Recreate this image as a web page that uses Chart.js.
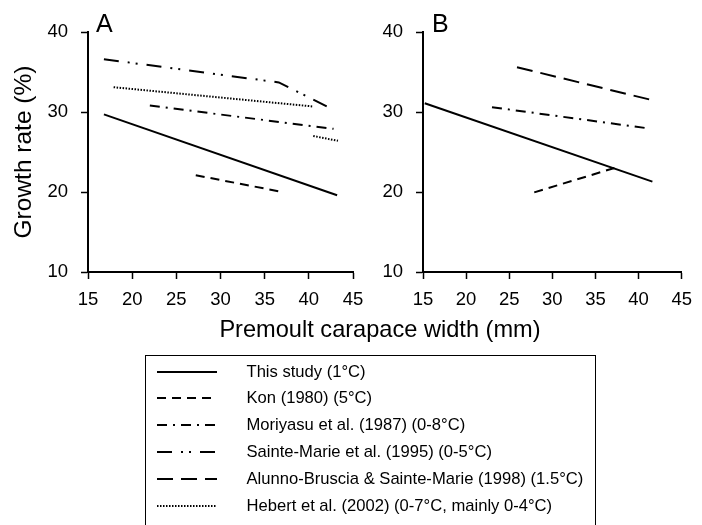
<!DOCTYPE html>
<html>
<head>
<meta charset="utf-8">
<script src="https://cdn.jsdelivr.net/npm/chart.js@4.4.1/dist/chart.umd.min.js"></script>
<style>
  body { margin: 0; background: #fff; font-family: "Liberation Sans", Arial, sans-serif; color: #000; }
  #wrap { position: relative; width: 702px; height: 525px; overflow: hidden; }
  .panel { position: absolute; top: 0; height: 320px; }
  #panelA { left: 0; width: 380px; }
  #panelB { left: 360px; width: 342px; }
  .tag { position: absolute; font-size: 25px; line-height: 1; }
  #xTitle { position: absolute; top: 316px; left: 180px; width: 400px; text-align: center; font-size: 23.6px; white-space: nowrap; }
  #legend { position: absolute; left: 145px; top: 355px; width: 451px; height: 200px; border: 1.5px solid #000; box-sizing: border-box; }
  .row { position: absolute; left: 0; height: 20px; display: flex; align-items: center; font-size: 16.6px; white-space: nowrap; }
  .row canvas { margin-left: 10.5px; }
  .row span { margin-left: 30px; }
</style>
</head>
<body>
<div id="wrap">
  <div class="panel" id="panelA"><canvas id="chartA"></canvas></div>
  <div class="panel" id="panelB"><canvas id="chartB"></canvas></div>
  <div class="tag" style="left:96px; top:11px;">A</div>
  <div class="tag" style="left:432px; top:11px;">B</div>
  <div id="xTitle">Premoult carapace width (mm)</div>
  <div id="legend"></div>
</div>
<script>
// Ejes (valores de las marcas)
const xTickValues = [15, 20, 25, 30, 35, 40, 45];
const yTickValues = [10, 20, 30, 40];

// Nombres de las series (leyenda)
const seriesNames = [
  'This study (1°C)',
  'Kon (1980) (5°C)',
  'Moriyasu et al. (1987) (0-8°C)',
  'Sainte-Marie et al. (1995) (0-5°C)',
  'Alunno-Bruscia & Sainte-Marie (1998) (1.5°C)',
  'Hebert et al. (2002) (0-7°C, mainly 0-4°C)'
];

// Panel A: ancho (mm) / crecimiento (%)
const thisStudyAX = [16.8, 43.2];
const thisStudyAY = [29.7, 19.6];
const konAX = [27.2, 37.0];
const konAY = [22.1, 20.0];
const moriyasuAX = [22.0, 42.8];
const moriyasuAY = [30.8, 27.9];
const sainteMarieAX = [16.8, 36.6, 42.4];
const sainteMarieAY = [36.6, 33.7, 30.5];
const hebertAX = [17.9, 40.4, 40.45, 40.5, 43.3];
const hebertAY = [33.1, 30.7, null, 27.0, 26.4];

// Panel B
const thisStudyBX = [15.2, 41.6];
const thisStudyBY = [31.1, 21.3];
const konBX = [27.9, 37.2];
const konBY = [19.95, 23.0];
const moriyasuBX = [23.0, 40.8];
const moriyasuBY = [30.6, 28.0];
const alunnoBX = [25.9, 41.7];
const alunnoBY = [35.6, 31.45];

// Estilos de trazo por fuente
const dashes = [[], [9, 6], [10, 6, 2, 6], [15, 9, 2, 6, 2, 9], [16, 8], [1.5, 1.5]];

const FONT = '"Liberation Sans", Arial, sans-serif';
Chart.defaults.color = '#000';
Chart.defaults.font.family = FONT;

function points(xs, ys) {
  return xs.map((x, i) => ({ x: x, y: ys[i] }));
}

function line(idx, xs, ys) {
  return {
    label: seriesNames[idx],
    data: points(xs, ys),
    borderColor: '#000',
    borderWidth: 2,
    borderDash: dashes[idx],
    borderCapStyle: 'butt',
    pointRadius: 0,
    tension: 0,
    fill: false,
    spanGaps: false
  };
}

function buildPanel(canvasId, datasets, yAxisWidth, rightPad, yTitle) {
  return new Chart(document.getElementById(canvasId), {
    type: 'line',
    data: { datasets: datasets },
    options: {
      responsive: true,
      maintainAspectRatio: false,
      animation: false,
      layout: { padding: { top: 32, right: rightPad, left: 0, bottom: 0 } },
      plugins: { legend: { display: false }, tooltip: { enabled: false } },
      scales: {
        x: {
          type: 'linear',
          min: xTickValues[0],
          max: xTickValues[xTickValues.length - 1],
          afterBuildTicks: s => { s.ticks = xTickValues.map(v => ({ value: v })); },
          afterFit: s => { s.height = 48; },
          ticks: { font: { size: 18.5 }, padding: 10, maxRotation: 0, autoSkip: false },
          grid: { drawOnChartArea: false, drawTicks: true, tickLength: 7, tickWidth: 1.5, tickColor: '#000' },
          border: { color: '#000', width: 2 }
        },
        y: {
          type: 'linear',
          min: yTickValues[0],
          max: yTickValues[yTickValues.length - 1],
          afterBuildTicks: s => { s.ticks = yTickValues.map(v => ({ value: v })); },
          afterFit: s => { s.width = yAxisWidth; },
          ticks: { font: { size: 18.5 }, padding: 13 },
          grid: { drawOnChartArea: false, drawTicks: true, tickLength: 7, tickWidth: 1.5, tickColor: '#000' },
          border: { color: '#000', width: 2 },
          title: {
            display: !!yTitle,
            text: yTitle || '',
            font: { size: 24.5 },
            padding: { top: 10, bottom: 0 }
          }
        }
      }
    }
  });
}

const chartA = buildPanel('chartA', [
  line(0, thisStudyAX, thisStudyAY),
  line(1, konAX, konAY),
  line(2, moriyasuAX, moriyasuAY),
  line(3, sainteMarieAX, sainteMarieAY),
  line(5, hebertAX, hebertAY)
], 88, 27, 'Growth rate (%)');

const chartB = buildPanel('chartB', [
  line(0, thisStudyBX, thisStudyBY),
  line(1, konBX, konBY),
  line(2, moriyasuBX, moriyasuBY),
  line(4, alunnoBX, alunnoBY)
], 63, 13, null);

// Leyenda común debajo de los dos paneles
const legendEl = document.getElementById('legend');
seriesNames.forEach((name, i) => {
  const row = document.createElement('div');
  row.className = 'row';
  row.style.top = (5.5 + i * 26.9) + 'px';
  const c = document.createElement('canvas');
  c.width = 60;
  c.height = 6;
  const ctx = c.getContext('2d');
  ctx.strokeStyle = '#000';
  ctx.lineWidth = 2;
  ctx.setLineDash(dashes[i]);
  ctx.beginPath();
  ctx.moveTo(0, 3);
  ctx.lineTo(60, 3);
  ctx.stroke();
  const label = document.createElement('span');
  label.textContent = name;
  row.appendChild(c);
  row.appendChild(label);
  legendEl.appendChild(row);
});
</script>
</body>
</html>
